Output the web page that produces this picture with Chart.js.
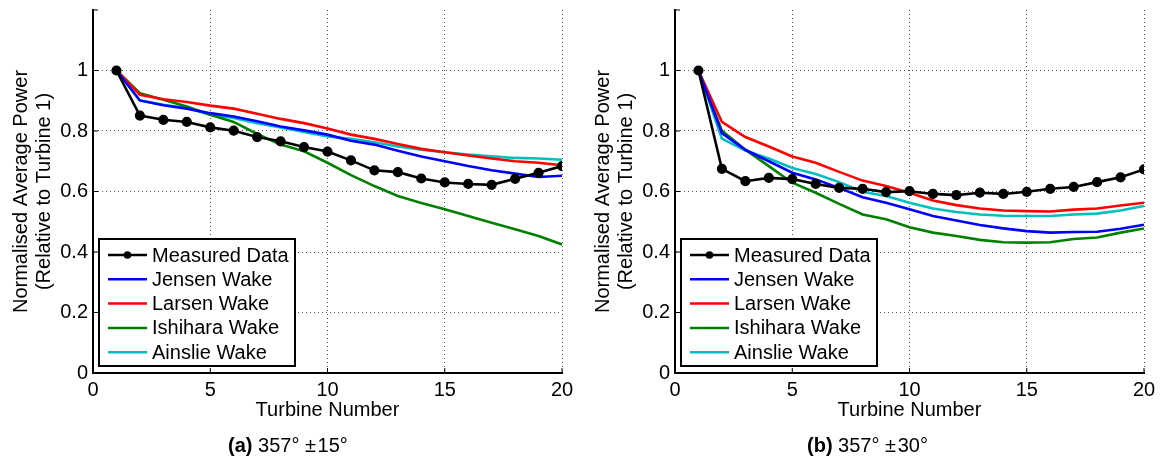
<!DOCTYPE html>
<html>
<head>
<meta charset="utf-8">
<script src="https://cdn.jsdelivr.net/npm/chart.js@4.4.1/dist/chart.umd.min.js"></script>
<style>
  body { margin: 0; background: #fff; width: 1164px; height: 461px; overflow: hidden; }
  .panel { position: absolute; top: 0; width: 582px; height: 461px; }
  .caption { position: absolute; top: 434px; font: 20px "Liberation Sans", Arial, sans-serif; color: #000; white-space: nowrap; }
</style>
</head>
<body>
<div class="panel" style="left:0"><canvas id="chartA" width="582" height="461"></canvas></div>
<div class="panel" style="left:582px"><canvas id="chartB" width="582" height="461"></canvas></div>
<div class="caption" style="left:228px"><b>(a)</b> 357°&nbsp;±&#8202;15°</div>
<div class="caption" style="left:807px"><b>(b)</b> 357°&nbsp;±&#8202;30°</div>

<script>
// Turbine numbers along the row
const turbines = [1, 2, 3, 4, 5, 6, 7, 8, 9, 10, 11, 12, 13, 14, 15, 16, 17, 18, 19, 20];

// (a) 357° ± 15°
const measuredA = [1.0, 0.851, 0.837, 0.830, 0.812, 0.801, 0.780, 0.766, 0.747, 0.732, 0.703, 0.670, 0.664, 0.643, 0.630, 0.625, 0.622, 0.642, 0.662, 0.684];
const jensenA   = [1.0, 0.901, 0.885, 0.874, 0.859, 0.848, 0.832, 0.815, 0.802, 0.788, 0.768, 0.755, 0.735, 0.716, 0.700, 0.684, 0.670, 0.659, 0.648, 0.652];
const larsenA   = [1.0, 0.920, 0.905, 0.896, 0.884, 0.874, 0.857, 0.840, 0.826, 0.808, 0.788, 0.774, 0.757, 0.741, 0.730, 0.719, 0.709, 0.700, 0.695, 0.687];
const ishiharaA = [1.0, 0.925, 0.903, 0.881, 0.854, 0.830, 0.790, 0.755, 0.733, 0.695, 0.654, 0.618, 0.585, 0.562, 0.541, 0.519, 0.497, 0.475, 0.453, 0.425];
const ainslieA  = [1.0, 0.901, 0.887, 0.876, 0.854, 0.843, 0.826, 0.812, 0.797, 0.782, 0.774, 0.763, 0.749, 0.738, 0.730, 0.722, 0.716, 0.711, 0.709, 0.705];

// (b) 357° ± 30°
const measuredB = [1.0, 0.675, 0.634, 0.645, 0.641, 0.625, 0.612, 0.609, 0.598, 0.601, 0.592, 0.588, 0.596, 0.592, 0.599, 0.609, 0.615, 0.631, 0.647, 0.673];
const jensenB   = [1.0, 0.793, 0.738, 0.700, 0.662, 0.640, 0.612, 0.581, 0.563, 0.541, 0.519, 0.504, 0.489, 0.478, 0.469, 0.464, 0.466, 0.467, 0.477, 0.490];
const larsenB   = [1.0, 0.830, 0.780, 0.749, 0.716, 0.695, 0.665, 0.636, 0.618, 0.596, 0.570, 0.555, 0.544, 0.537, 0.535, 0.534, 0.540, 0.544, 0.554, 0.563];
const ishiharaB = [1.0, 0.801, 0.738, 0.684, 0.629, 0.596, 0.559, 0.524, 0.508, 0.482, 0.464, 0.453, 0.440, 0.432, 0.431, 0.432, 0.443, 0.448, 0.464, 0.478];
const ainslieB  = [1.0, 0.775, 0.735, 0.709, 0.678, 0.658, 0.631, 0.599, 0.585, 0.563, 0.544, 0.532, 0.524, 0.520, 0.519, 0.519, 0.524, 0.527, 0.537, 0.552];

const seriesNames = ['Measured Data', 'Jensen Wake', 'Larsen Wake', 'Ishihara Wake', 'Ainslie Wake'];
const seriesColors = ['#000000', '#0000ff', '#ff0000', '#008000', '#00bfbf'];

const xTicks = [0, 5, 10, 15, 20];
const yTicks = [0, 0.2, 0.4, 0.6, 0.8, 1.0, 1.2];

const FONT = '"Liberation Sans", Arial, sans-serif';

function toPoints(values) {
    return turbines.map((t, i) => ({ x: t, y: values[i] }));
}

// Legend drawn inside the plot area, lower left, MATLAB style
const boxLegend = {
    id: 'boxLegend',
    afterDraw(chart) {
        const ctx = chart.ctx;
        const area = chart.chartArea;
        const bx = area.left + 6, by = area.top + 229, bw = 196, bh = 127;
        ctx.save();
        ctx.fillStyle = '#fff';
        ctx.fillRect(bx, by, bw, bh);
        ctx.strokeStyle = '#000';
        ctx.lineWidth = 2;
        ctx.strokeRect(bx, by, bw, bh);
        ctx.font = '20px ' + FONT;
        ctx.textBaseline = 'middle';
        chart.data.datasets.forEach((ds, i) => {
            const y = by + 16 + i * 24.3;
            ctx.strokeStyle = ds.borderColor;
            ctx.lineWidth = 2.5;
            ctx.beginPath();
            ctx.moveTo(bx + 9, y);
            ctx.lineTo(bx + 48, y);
            ctx.stroke();
            if (ds.pointRadius > 0) {
                ctx.fillStyle = ds.borderColor;
                ctx.beginPath();
                ctx.arc(bx + 28.5, y, 3.8, 0, Math.PI * 2);
                ctx.fill();
            }
            ctx.fillStyle = '#000';
            ctx.fillText(ds.label, bx + 53, y + 1);
        });
        ctx.restore();
    }
};

// solid black axis lines (left and bottom only) with small inward ticks
const solidAxes = {
    id: 'solidAxes',
    afterDraw(chart) {
        const ctx = chart.ctx, a = chart.chartArea;
        const xs = chart.scales.x, ys = chart.scales.y;
        ctx.save();
        ctx.strokeStyle = '#000';
        ctx.lineWidth = 2;
        ctx.beginPath();
        ctx.moveTo(a.left, a.top);
        ctx.lineTo(a.left, a.bottom);
        ctx.lineTo(a.right, a.bottom);
        ctx.stroke();
        ctx.lineWidth = 1;
        ctx.beginPath();
        xTicks.forEach(v => {
            const px = xs.getPixelForValue(v);
            ctx.moveTo(px, a.bottom);
            ctx.lineTo(px, a.bottom - 5);
        });
        yTicks.forEach(v => {
            const py = ys.getPixelForValue(v);
            ctx.moveTo(a.left, py);
            ctx.lineTo(a.left + 5, py);
        });
        ctx.stroke();
        ctx.restore();
    }
};

function makeChart(id, values) {
    const datasets = values.map((v, i) => ({
        label: seriesNames[i],
        data: toPoints(v),
        borderColor: seriesColors[i],
        backgroundColor: seriesColors[i],
        borderWidth: 2.6,
        pointRadius: i === 0 ? 3.8 : 0,
        pointHoverRadius: 0,
        tension: 0
    }));

    new Chart(document.getElementById(id), {
        type: 'line',
        data: { datasets },
        options: {
            responsive: false,
            animation: false,
            layout: { padding: { left: 0, right: 20, top: 10, bottom: 39 } },
            plugins: { legend: { display: false }, tooltip: { enabled: false } },
            scales: {
                x: {
                    type: 'linear',
                    min: 0, max: 20,
                    afterBuildTicks: s => { s.ticks = xTicks.map(v => ({ value: v })); },
                    afterFit: s => { s.height = 49; s.paddingLeft = 0; s.paddingRight = 0; },
                    grid: {
                        color: c => c.tick.value === 0 ? 'rgba(0,0,0,0)' : '#555',
                        lineWidth: 1,
                        drawTicks: false
                    },
                    border: { color: '#000', width: 2, dash: [1, 3] },
                    ticks: { color: '#000', font: { family: FONT, size: 20 }, padding: 5, maxRotation: 0 },
                    title: { display: true, text: 'Turbine Number', color: '#000', font: { family: FONT, size: 20, lineHeight: 1.2 }, padding: { top: 0, bottom: 0 } }
                },
                y: {
                    min: 0, max: 1.2,
                    afterBuildTicks: s => { s.ticks = yTicks.map(v => ({ value: v })); },
                    afterFit: s => { s.width = 93; s.paddingTop = 0; s.paddingBottom = 0; },
                    grid: {
                        color: c => (c.tick.value === 0 || c.tick.value > 1.1) ? 'rgba(0,0,0,0)' : '#555',
                        lineWidth: 1,
                        drawTicks: false
                    },
                    border: { color: '#000', width: 2, dash: [1, 3] },
                    ticks: {
                        color: '#000', font: { family: FONT, size: 20 }, padding: 5,
                        callback: v => v > 1.1 ? '' : String(Math.round(v * 10) / 10)
                    },
                    title: {
                        display: true,
                        text: ['Normalised Average Power', '(Relative to Turbine 1)'],
                        color: '#000', font: { family: FONT, size: 20, lineHeight: 1.15 }, padding: { top: 10, bottom: 4 }
                    }
                }
            }
        },
        plugins: [boxLegend, solidAxes]
    });
}

makeChart('chartA', [measuredA, jensenA, larsenA, ishiharaA, ainslieA]);
makeChart('chartB', [measuredB, jensenB, larsenB, ishiharaB, ainslieB]);
</script>
</body>
</html>
